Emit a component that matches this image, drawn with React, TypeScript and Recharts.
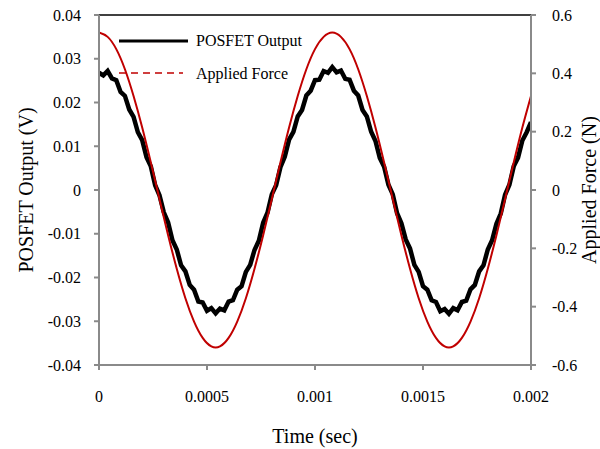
import React from 'react';
import { LineChart, Line, XAxis, YAxis, ReferenceLine } from 'recharts';

const timeForce = [
  0, 0.00004, 0.00008, 0.00012, 0.00016, 0.0002, 0.00024, 0.00028, 0.00032, 0.00036,
  0.0004, 0.00044, 0.00048, 0.00052, 0.00056, 0.0006, 0.00064, 0.00068, 0.00072, 0.00076,
  0.0008, 0.00084, 0.00088, 0.00092, 0.00096, 0.001, 0.00104, 0.00108, 0.00112, 0.00116,
  0.0012, 0.00124, 0.00128, 0.00132, 0.00136, 0.0014, 0.00144, 0.00148, 0.00152, 0.00156,
  0.0016, 0.00164, 0.00168, 0.00172, 0.00176, 0.0018, 0.00184, 0.00188, 0.00192, 0.00196,
  0.002,
];

const appliedForce = [
  0.54, 0.525, 0.483, 0.414, 0.322, 0.214, 0.094, -0.031, -0.155, -0.27,
  -0.371, -0.451, -0.507, -0.536, -0.536, -0.507, -0.451, -0.371, -0.27, -0.155,
  -0.031, 0.094, 0.214, 0.322, 0.414, 0.483, 0.525, 0.54, 0.525, 0.483,
  0.414, 0.322, 0.214, 0.094, -0.031, -0.155, -0.27, -0.371, -0.451, -0.507,
  -0.536, -0.536, -0.507, -0.451, -0.371, -0.27, -0.155, -0.031, 0.094, 0.214,
  0.322,
];

const timePosfet = [
  0, 0.00002, 0.00004, 0.00006, 0.00008, 0.0001, 0.00012, 0.00014, 0.00016, 0.00018,
  0.0002, 0.00022, 0.00024, 0.00026, 0.00028, 0.0003, 0.00032, 0.00034, 0.00036, 0.00038,
  0.0004, 0.00042, 0.00044, 0.00046, 0.00048, 0.0005, 0.00052, 0.00054, 0.00056, 0.00058,
  0.0006, 0.00062, 0.00064, 0.00066, 0.00068, 0.0007, 0.00072, 0.00074, 0.00076, 0.00078,
  0.0008, 0.00082, 0.00084, 0.00086, 0.00088, 0.0009, 0.00092, 0.00094, 0.00096, 0.00098,
  0.001, 0.00102, 0.00104, 0.00106, 0.00108, 0.0011, 0.00112, 0.00114, 0.00116, 0.00118,
  0.0012, 0.00122, 0.00124, 0.00126, 0.00128, 0.0013, 0.00132, 0.00134, 0.00136, 0.00138,
  0.0014, 0.00142, 0.00144, 0.00146, 0.00148, 0.0015, 0.00152, 0.00154, 0.00156, 0.00158,
  0.0016, 0.00162, 0.00164, 0.00166, 0.00168, 0.0017, 0.00172, 0.00174, 0.00176, 0.00178,
  0.0018, 0.00182, 0.00184, 0.00186, 0.00188, 0.0019, 0.00192, 0.00194, 0.00196, 0.00198,
  0.002,
];

const posfetOutput = [
  0.0268, 0.0262, 0.0272, 0.0255, 0.0251, 0.0224, 0.0215, 0.0184, 0.0167, 0.0132,
  0.0114, 0.0075, 0.0054, 0.0011, -0.0012, -0.0051, -0.0074, -0.0115, -0.0136, -0.0172,
  -0.0186, -0.0217, -0.0228, -0.0255, -0.0257, -0.0276, -0.027, -0.0282, -0.0271, -0.0275,
  -0.0255, -0.0252, -0.0228, -0.022, -0.0187, -0.0171, -0.0137, -0.0116, -0.0075, -0.0052,
  -0.001, 0.0011, 0.0052, 0.0076, 0.0115, 0.0133, 0.0168, 0.0183, 0.0216, 0.0227,
  0.0251, 0.0252, 0.0272, 0.0268, 0.0281, 0.0269, 0.0273, 0.0254, 0.0252, 0.0227,
  0.0216, 0.0183, 0.0168, 0.0133, 0.0112, 0.0073, 0.0053, 0.0012, -0.001, -0.0053,
  -0.0076, -0.0113, -0.0134, -0.0171, -0.0187, -0.022, -0.0228, -0.0252, -0.0256, -0.0277,
  -0.0272, -0.0283, -0.027, -0.0275, -0.0256, -0.0253, -0.0227, -0.0217, -0.0186, -0.0172,
  -0.0136, -0.0115, -0.0077, -0.0054, -0.0011, 0.0012, 0.0054, 0.0074, 0.0113, 0.0132,
  0.0155,
];

const xTicks = [0, 0.0005, 0.001, 0.0015, 0.002];
const xTickLabels = ['0', '0.0005', '0.001', '0.0015', '0.002'];
const leftTicks = [-0.04, -0.03, -0.02, -0.01, 0, 0.01, 0.02, 0.03, 0.04];
const leftTickLabels = ['-0.04', '-0.03', '-0.02', '-0.01', '0', '0.01', '0.02', '0.03', '0.04'];
const rightTicks = [-0.6, -0.4, -0.2, 0, 0.2, 0.4, 0.6];
const rightTickLabels = ['-0.6', '-0.4', '-0.2', '0', '0.2', '0.4', '0.6'];

const forceData = timeForce.map((t, i) => ({ t, force: appliedForce[i] }));
const posfetData = timePosfet.map((t, i) => ({ t, v: posfetOutput[i] }));

const FONT = "'Liberation Serif', 'Times New Roman', 'DejaVu Serif', serif";
const AXIS_GRAY = '#8a8a8a';

const labelFor = (ticks: number[], labels: string[]) => (v: number) => {
  const i = ticks.findIndex((x) => Math.abs(x - v) < 1e-9);
  return i >= 0 ? labels[i] : String(v);
};

const tickStyle = { fill: '#000', fontSize: 16 };

export default function App() {
  return (
    <div style={{ position: 'absolute', left: 0, top: 0, width: 600, height: 449, background: '#fff', fontFamily: FONT }}>
      <style>{`svg text, svg tspan { font-family: ${FONT} !important; }`}</style>
      <LineChart
        width={600}
        height={449}
        margin={{ top: 15, right: 0, bottom: 4, left: 0 }}
      >
        <XAxis
          dataKey="t"
          type="number"
          domain={[0, 0.002]}
          ticks={xTicks}
          allowDataOverflow
          height={80}
          stroke={AXIS_GRAY}
          strokeWidth={2}
          tickSize={5}
          tickMargin={21}
          tick={tickStyle}
          tickFormatter={labelFor(xTicks, xTickLabels)}
          label={{ value: 'Time (sec)', position: 'insideBottom', offset: 2, fill: '#000', fontSize: 20 }}
        />
        <YAxis
          yAxisId="left"
          orientation="left"
          type="number"
          domain={[-0.04, 0.04]}
          ticks={leftTicks}
          allowDataOverflow
          width={99}
          stroke={AXIS_GRAY}
          strokeWidth={2}
          tickSize={5}
          tickMargin={13}
          tick={tickStyle}
          tickFormatter={labelFor(leftTicks, leftTickLabels)}
          label={{ value: 'POSFET Output (V)', angle: -90, position: 'insideLeft', offset: 26, fill: '#000', fontSize: 20, style: { textAnchor: 'middle' } }}
        />
        <YAxis
          yAxisId="right"
          orientation="right"
          type="number"
          domain={[-0.6, 0.6]}
          ticks={rightTicks}
          allowDataOverflow
          width={69}
          stroke={AXIS_GRAY}
          strokeWidth={2}
          tickSize={5}
          tickMargin={16}
          tick={{ ...tickStyle, textAnchor: 'start' }}
          tickFormatter={labelFor(rightTicks, rightTickLabels)}
          label={{ value: 'Applied Force (N)', angle: -90, position: 'insideRight', offset: 11, fill: '#000', fontSize: 20, style: { textAnchor: 'middle' } }}
        />
        <ReferenceLine yAxisId="left" y={0.04} stroke="#000" strokeWidth={1.5} ifOverflow="extendDomain" />
        <Line
          yAxisId="left"
          data={posfetData}
          dataKey="v"
          type="linear"
          stroke="#000"
          strokeWidth={4.5}
          strokeLinejoin="miter"
          dot={false}
          isAnimationActive={false}
        />
        <Line
          yAxisId="right"
          data={forceData}
          dataKey="force"
          type="natural"
          stroke="#c00000"
          strokeWidth={2}
          dot={false}
          isAnimationActive={false}
        />
      </LineChart>
      <svg width={600} height={449} style={{ position: 'absolute', left: 0, top: 0, pointerEvents: 'none' }}>
        <line x1={119} y1={41} x2={188} y2={41} stroke="#000" strokeWidth={3} />
        <text x={196} y={46} fontSize={16} fill="#000">POSFET Output</text>
        <line x1={119} y1={73} x2={183} y2={73} stroke="#c00000" strokeWidth={1.5} strokeDasharray="7 5" />
        <text x={196} y={79} fontSize={16} fill="#000">Applied Force</text>
      </svg>
    </div>
  );
}
